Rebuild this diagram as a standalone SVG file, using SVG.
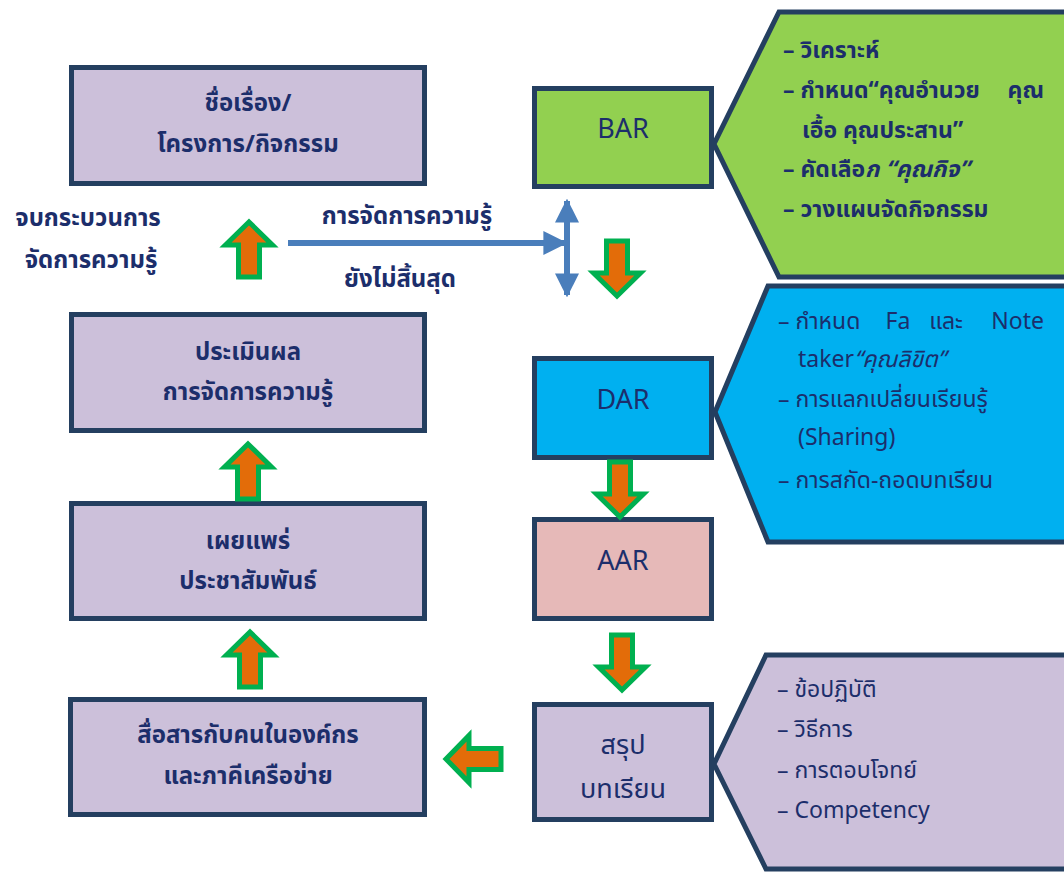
<svg xmlns="http://www.w3.org/2000/svg" width="1064" height="872" viewBox="0 0 1064 872">
<style>
  .box{stroke:#243F60;stroke-width:5}
  .lav{fill:#CCC0DA}
  .t{font-family:"Noto Sans Thai","Noto Sans",sans-serif;fill:#1C2E6B;text-anchor:middle}
  .b{font-weight:bold;font-size:24px}
  .r{font-size:27px}
  .c{font-family:"Noto Sans Thai","Noto Sans",sans-serif;fill:#1C2E6B;font-size:23px}
  .cb{font-weight:bold}
  .ga{fill:#E36C09;stroke:#00B050;stroke-width:5}
  .ba{stroke:#4A7EBB;stroke-width:6;fill:none}
</style>
<defs>
  <path id="up" d="M0,0 L23.5,23 L10.5,23 L10.5,55 L-10.5,55 L-10.5,23 L-23.5,23 Z"/>
  <marker id="bh" viewBox="0 0 10 10" refX="9" refY="5" markerWidth="4" markerHeight="4" orient="auto-start-reverse" markerUnits="strokeWidth">
    <path d="M0,0 L10,5 L0,10 Z" fill="#4A7EBB"/>
  </marker>
</defs>
<rect width="1064" height="872" fill="#FFFFFF"/>

<g id="callout-bar">
  <path class="box" fill="#92D050" d="M1070,12 L779,12 L714,144 L779,277 L1070,277"/>
  <text class="c cb" x="783" y="58">– วิเคราะห์</text>
  <text class="c cb" x="783" y="98">– กำหนด“คุณอำนวย</text>
  <text class="c cb" x="1044" y="98" text-anchor="end">คุณ</text>
  <text class="c cb" x="802" y="138">เอื้อ คุณประสาน”</text>
  <text class="c cb" x="783" y="177">– คัดเลือ<tspan font-style="italic">ก “คุณกิจ”</tspan></text>
  <text class="c cb" x="783" y="217">– วางแผนจัดกิจกรรม</text>
</g>

<g id="callout-dar">
  <path class="box" fill="#00B0F0" d="M1070,286 L768,286 L715,412 L768,542 L1070,542"/>
  <text class="c" x="778" y="329">– กำหนด</text>
  <text class="c" x="898" y="329" text-anchor="middle">Fa</text>
  <text class="c" x="946" y="329" text-anchor="middle">และ</text>
  <text class="c" x="1044" y="329" text-anchor="end">Note</text>
  <text class="c" x="798" y="367">taker<tspan font-style="italic">“คุณลิขิต”</tspan></text>
  <text class="c" x="778" y="407">– การแลกเปลี่ยนเรียนรู้</text>
  <text class="c" x="798" y="445">(Sharing)</text>
  <text class="c" x="778" y="488">– การสกัด-ถอดบทเรียน</text>
</g>

<g id="callout-summary">
  <path class="box" fill="#CCC0DA" d="M1070,655 L766,655 L714,764 L766,869 L1070,869"/>
  <text class="c" x="777" y="697">– ข้อปฏิบัติ</text>
  <text class="c" x="777" y="737">– วิธีการ</text>
  <text class="c" x="777" y="778">– การตอบโจทย์</text>
  <text class="c" x="777" y="818">– Competency</text>
</g>

<g id="box-title">
  <rect class="box lav" x="71.5" y="67.5" width="353" height="116"/>
  <text class="t b" x="248" y="111">ชื่อเรื่อง/</text>
  <text class="t b" x="248" y="152">โครงการ/กิจกรรม</text>
</g>
<g id="box-eval">
  <rect class="box lav" x="71.5" y="314.5" width="353" height="116"/>
  <text class="t b" x="248" y="360">ประเมินผล</text>
  <text class="t b" x="248" y="400">การจัดการความรู้</text>
</g>
<g id="box-publish">
  <rect class="box lav" x="71.5" y="503.5" width="353" height="115"/>
  <text class="t b" x="248" y="549">เผยแพร่</text>
  <text class="t b" x="248" y="589">ประชาสัมพันธ์</text>
</g>
<g id="box-communicate">
  <rect class="box lav" x="70.5" y="699.5" width="354" height="115"/>
  <text class="t b" x="248" y="743">สื่อสารกับคนในองค์กร</text>
  <text class="t b" x="248" y="784">และภาคีเครือข่าย</text>
</g>

<g id="box-bar">
  <rect class="box" fill="#92D050" x="534.5" y="88.5" width="177" height="98"/>
  <text class="t r" x="623" y="138">BAR</text>
</g>
<g id="box-dar">
  <rect class="box" fill="#00B0F0" x="534.5" y="358.5" width="177" height="99"/>
  <text class="t r" x="623" y="409">DAR</text>
</g>
<g id="box-aar">
  <rect class="box" fill="#E6B9B8" x="534.5" y="519.5" width="177" height="99"/>
  <text class="t r" x="623" y="570">AAR</text>
</g>
<g id="box-summary">
  <rect class="box lav" x="534.5" y="704.5" width="177" height="115"/>
  <text class="t r" x="623" y="754">สรุป</text>
  <text class="t r" x="623" y="798">บทเรียน</text>
</g>

<g id="labels">
  <text class="t b" x="88" y="226">จบกระบวนการ</text>
  <text class="t b" x="91" y="268">จัดการความรู้</text>
  <text class="t b" x="407" y="224">การจัดการความรู้</text>
  <text class="t b" x="400" y="287">ยังไม่สิ้นสุด</text>
</g>

<g id="connectors">
  <use href="#up" class="ga" transform="translate(249,222)"/>
  <use href="#up" class="ga" transform="translate(248,444)"/>
  <use href="#up" class="ga" transform="translate(250,632)"/>
  <use href="#up" class="ga" transform="translate(617,296) rotate(180)"/>
  <use href="#up" class="ga" transform="translate(620,517) rotate(180)"/>
  <use href="#up" class="ga" transform="translate(622,690) rotate(180)"/>
  <use href="#up" class="ga" transform="translate(446,759) rotate(-90)"/>
  <line class="ba" x1="288" y1="243" x2="565" y2="243" marker-end="url(#bh)"/>
  <line class="ba" x1="567" y1="201" x2="567" y2="295" marker-start="url(#bh)" marker-end="url(#bh)"/>
</g>
</svg>
